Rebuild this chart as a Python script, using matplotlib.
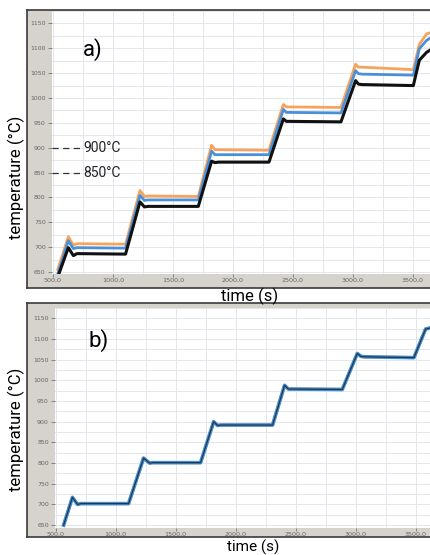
import matplotlib.pyplot as plt

W, H = 430, 555

# panel a) three thermocouple traces (s, degC)
t_a = [540, 628, 670, 700, 1105, 1225, 1262, 1292, 1711, 1822, 1850, 1880, 2300, 2420, 2445, 2475, 2900, 3022, 3045, 3075, 3503, 3553, 3614, 3641]
orange_a = [655, 721, 704, 707, 706, 814, 802, 803, 802, 905, 896, 896, 895, 987, 982, 982, 981, 1068, 1062, 1062, 1057, 1108, 1129, 1131]
blue_a = [646, 713, 697, 699, 698, 804, 794, 795, 795, 893, 886, 886, 886, 977, 971, 971, 970, 1055, 1049, 1048, 1046, 1099, 1116, 1120]
black_a = [640, 699, 683, 687, 686, 791, 781, 782, 782, 873, 870, 871, 871, 958, 953, 953, 952, 1035, 1028, 1027, 1025, 1076, 1092, 1096]

# panel b) traces after correction
t_b = [567, 640, 683, 710, 1108, 1233, 1283, 1310, 1708, 1817, 1850, 1880, 2308, 2408, 2440, 2470, 2889, 3014, 3045, 3075, 3486, 3583, 3625]
temp_b = [650, 717, 700, 702, 702, 812, 800, 801, 801, 900, 891, 892, 892, 988, 979, 979, 978, 1065, 1058, 1057, 1055, 1124, 1127]

y_ticks = [650, 700, 750, 800, 850, 900, 950, 1000, 1050, 1100, 1150]
x_ticks = [500, 1000, 1500, 2000, 2500, 3000, 3500]
x_labels = ['500,0', '1000,0', '1500,0', '2000,0', '2500,0', '3000,0', '3500,0']
ref_levels = [900, 850]

GRAY = '#d6d3cc'
FONT = ['Roboto', 'DejaVu Sans']


def px_rect(x0, y0, x1, y1):
    return [x0 / W, 1 - y1 / H, (x1 - x0) / W, (y1 - y0) / H]


def panel(frame, inner, xlim, ylim):
    fr = fig.add_axes(px_rect(*frame))
    fr.set_facecolor(GRAY)
    fr.set_xticks([])
    fr.set_yticks([])
    for s in fr.spines.values():
        s.set_color('#3a3a3a')
        s.set_linewidth(1.2)
    ax = fig.add_axes(px_rect(*inner))
    ax.set_facecolor('white')
    for s in ax.spines.values():
        s.set_visible(False)
    ax.set_xlim(*xlim)
    ax.set_ylim(*ylim)
    ax.set_xticks(x_ticks)
    ax.set_xticklabels(x_labels, fontsize=4.6, color='#666666')
    ax.set_yticks(y_ticks)
    ax.set_yticklabels([str(v) for v in y_ticks], fontsize=4.5, color='#666666')
    ax.set_xticks(range(750, 4000, 500), minor=True)
    ax.set_yticks(range(675, 1200, 50), minor=True)
    ax.tick_params(axis='y', which='major', length=3, width=0.6, color='#777777', pad=1.5)
    ax.tick_params(axis='x', which='major', length=2, width=0.6, color='#777777', pad=1)
    ax.tick_params(axis='both', which='minor', length=0)
    ax.grid(True, which='both', color='#e3e6ec', linewidth=0.7)
    ax.set_axisbelow(True)
    return ax


fig = plt.figure(figsize=(W / 100, H / 100), dpi=100)

# a)
ax1 = panel((27, 10, 470, 288), (52, 11, 470, 274), (492, 492 + 418 / 60 * 500), (646, 1151))
ax1.plot(t_a, orange_a, color='#f7a35c', lw=2.0)
ax1.plot(t_a, blue_a, color='#4a90d9', lw=2.0)
ax1.plot(t_a, black_a, color='#111111', lw=2.2)
for lvl in ref_levels:
    ax1.plot([492, 745], [lvl, lvl], color='#333333', lw=0.9, ls=(0, (5, 3.5)), clip_on=False)
    ax1.text(755, lvl, f'{lvl}°C', fontsize=10, family=FONT, va='center', ha='left', color='#222222')

# b)
ax2 = panel((27, 303, 470, 537), (55, 308, 470, 528), (495, 495 + 415 / 60 * 500), (643, 1152))
ax2.plot(t_b, temp_b, color='#f7a35c', lw=2.2)
ax2.plot(t_b, temp_b, color='#3f8fd8', lw=2.6)
ax2.plot(t_b, temp_b, color='#1a1a1a', lw=0.9, alpha=0.75)

# text labels
fig.text(83 / W, 1 - 50 / H, 'a)', fontsize=16, family=FONT, va='center', ha='left')
fig.text(88 / W, 1 - 341 / H, 'b)', fontsize=16, family=FONT, va='center', ha='left')
for yc in (177, 429):
    fig.text(16.5 / W, 1 - yc / H, 'temperature (°C)', fontsize=12, family=FONT,
             rotation=90, va='center', ha='center')
fig.text(250 / W, 1 - 296 / H, 'time (s)', fontsize=12, family=FONT, va='center', ha='center')
fig.text(253 / W, 1 - 547 / H, 'time (s)', fontsize=11, family=FONT, va='center', ha='center')

fig.savefig('out.png', dpi=100)
